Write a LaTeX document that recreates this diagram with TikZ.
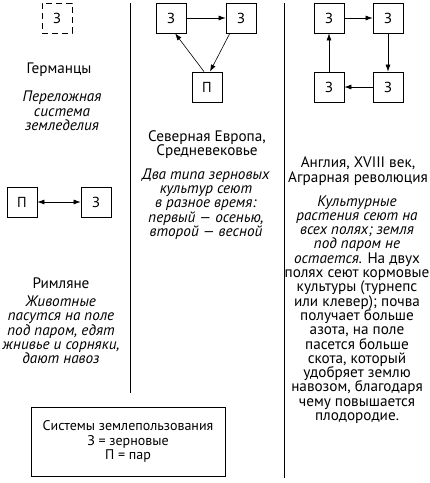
\documentclass[tikz,border=0pt]{standalone}
\usepackage{fontspec}
\setmainfont{PT Sans}
\usetikzlibrary{arrows.meta}
\lineskiplimit=-20pt

\begin{document}
\begin{tikzpicture}[x=1pt,y=-1pt,>={Latex[length=7pt,width=5pt]},
  field/.style={draw,line width=0.8pt,minimum size=30pt,inner sep=0pt,font=\fontsize{14.5}{14}\selectfont},
  txt/.style={align=center,inner sep=0pt,font=\fontsize{15.2}{14.3}\selectfont},
  arr/.style={->,line width=0.6pt}]
\useasboundingbox (0,0) rectangle (430,483);
% dividers
\draw[line width=0.9pt]
(130,3) -- (130,393)
(284,3) -- (284,478);

% Germans
\node[field,dash pattern=on 6pt off 4pt] (g) at (57,18) {З};
\node[txt] (gname) at (59,70) {Германцы};
\node[txt] (gnote) at (62,111) {\textit{Переложная}\\\textit{система}\\\textit{земледелия}};

% Romans
\node[field] (rp) at (22,202) {П};
\node[field] (rz) at (96,202) {З};
\draw[arr,<->] (rp) -- (rz);
\node[txt] (rname) at (61,283) {Римляне};
\node[txt] (rnote) at (61,330) {\textit{Животные}\\\textit{пасутся на поле}\\\textit{под паром, едят}\\\textit{жнивье и сорняки,}\\\textit{дают навоз}};

% Northern Europe
\node[field] (nz1) at (171,18) {З};
\node[field] (nz2) at (241,18) {З};
\node[field] (np) at (207,87) {П};
\draw[arr] (nz1) -- (nz2);
\draw[arr] (nz2.-126) -- (np.79);
\draw[arr] (np.101) -- (nz1.-75);
\node[txt] (nname) at (207,144.5) {Северная Европа,\\Средневековье};
\node[txt] (nnote) at (206,204) {\textit{Два типа зерновых}\\\textit{культур сеют}\\\textit{в разное время:}\\\textit{первый — осенью,}\\\textit{второй — весной}};

% England
\node[field] (ez1) at (329,18) {З};
\node[field] (ez2) at (388,18) {З};
\node[field] (ez3) at (388,87) {З};
\node[field] (ez4) at (329,87) {З};
\draw[arr] (ez1) -- (ez2);
\draw[arr] (ez2) -- (ez3);
\draw[arr] (ez3) -- (ez4);
\draw[arr] (ez4) -- (ez1);
\node[txt] (ename) at (358,171) {Англия, XVIII век,\\Аграрная революция};
\node[txt] (enote) at (357,309.5) {\textit{Культурные}\\\textit{растения сеют на}\\\textit{всех полях; земля}\\\textit{под паром не}\\\textit{остается.} На двух\\полях сеют кормовые\\культуры (турнепс\\или клевер); почва\\получает больше\\азота, на поле\\пасется больше\\скота, который\\удобряет землю\\навозом, благодаря\\чему повышается\\плодородие.};

% key
\node[draw,line width=0.8pt,minimum width=194pt,minimum height=69pt,txt,font=\fontsize{14}{14.5}\selectfont] (key) at (128,441.5) {Системы землепользования\\З = зерновые\\П = пар};
\end{tikzpicture}
\end{document}
